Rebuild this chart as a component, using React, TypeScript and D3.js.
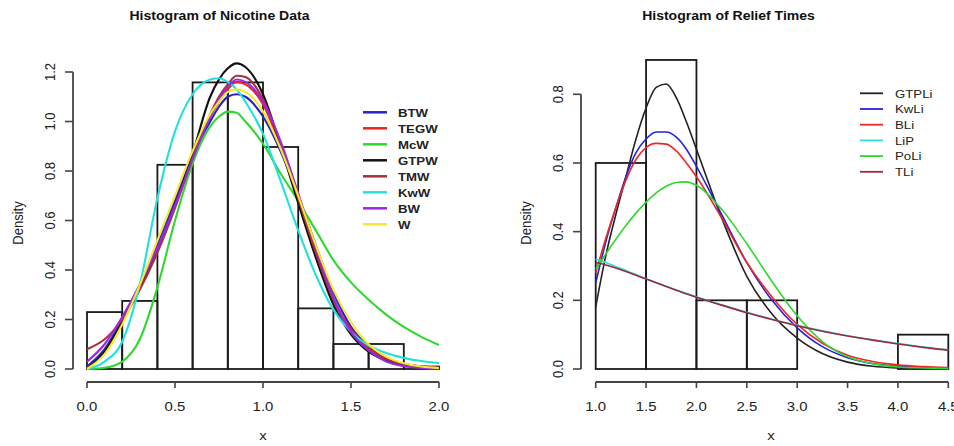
import React from "react";
import * as d3 from "d3";

// ---------- Nicotine data (left panel) ----------
const nicBinEdges = [0, 0.2, 0.4, 0.6, 0.8, 1.0, 1.2, 1.4, 1.6, 1.8, 2.0];
const nicBinDensity = [0.23, 0.275, 0.825, 1.158, 1.158, 0.897, 0.245, 0.101, 0.101, 0.01];
const nicGrid = [0, 0.1, 0.2, 0.3, 0.4, 0.5, 0.6, 0.7, 0.75, 0.8, 0.85, 0.9, 1.0, 1.1, 1.2, 1.3, 1.4, 1.5, 1.6, 1.7, 1.8, 1.9, 2.0];
const nicBTW = [0.01, 0.08, 0.2, 0.34, 0.5, 0.68, 0.86, 1.0, 1.06, 1.1, 1.11, 1.1, 1.02, 0.88, 0.7, 0.5, 0.31, 0.17, 0.09, 0.04, 0.018, 0.007, 0.003];
const nicTEGW = [0, 0.07, 0.19, 0.33, 0.48, 0.66, 0.85, 1.02, 1.08, 1.13, 1.16, 1.15, 1.07, 0.9, 0.69, 0.47, 0.28, 0.16, 0.085, 0.04, 0.02, 0.01, 0.005];
const nicMcW = [0, 0.005, 0.03, 0.12, 0.33, 0.6, 0.83, 0.98, 1.02, 1.04, 1.035, 1.0, 0.91, 0.79, 0.68, 0.56, 0.44, 0.35, 0.28, 0.22, 0.17, 0.13, 0.097];
const nicGTPW = [0, 0.07, 0.19, 0.33, 0.48, 0.66, 0.87, 1.1, 1.17, 1.215, 1.235, 1.22, 1.11, 0.9, 0.67, 0.45, 0.26, 0.14, 0.07, 0.035, 0.015, 0.006, 0.002];
const nicTMW = [0.08, 0.12, 0.2, 0.32, 0.47, 0.65, 0.85, 1.03, 1.1, 1.15, 1.185, 1.18, 1.09, 0.91, 0.69, 0.47, 0.28, 0.15, 0.08, 0.04, 0.02, 0.01, 0.005];
const nicKwW = [0, 0.03, 0.11, 0.34, 0.69, 0.96, 1.11, 1.17, 1.175, 1.16, 1.13, 1.08, 0.95, 0.76, 0.56, 0.38, 0.24, 0.15, 0.095, 0.065, 0.045, 0.032, 0.024];
const nicBW = [0.03, 0.1, 0.21, 0.34, 0.49, 0.66, 0.85, 1.02, 1.09, 1.14, 1.17, 1.16, 1.08, 0.92, 0.71, 0.49, 0.29, 0.15, 0.075, 0.03, 0.012, 0.004, 0.001];
const nicW = [0, 0.06, 0.18, 0.34, 0.52, 0.7, 0.88, 1.03, 1.08, 1.12, 1.13, 1.12, 1.04, 0.89, 0.7, 0.5, 0.32, 0.19, 0.1, 0.05, 0.023, 0.01, 0.004];
const nicNames = ["BTW", "TEGW", "McW", "GTPW", "TMW", "KwW", "BW", "W"];
const nicSeries = [nicBTW, nicTEGW, nicMcW, nicGTPW, nicTMW, nicKwW, nicBW, nicW];
const nicXTicks = [0, 0.5, 1.0, 1.5, 2.0];
const nicYTicks = [0, 0.2, 0.4, 0.6, 0.8, 1.0, 1.2];

// ---------- Relief times data (right panel) ----------
const relBinEdges = [1, 1.5, 2, 2.5, 3, 3.5, 4, 4.5];
const relBinDensity = [0.6, 0.9, 0.2, 0.2, 0, 0, 0.1];
const relGrid = [1.0, 1.1, 1.2, 1.3, 1.4, 1.5, 1.6, 1.7, 1.8, 1.9, 2.0, 2.25, 2.5, 2.75, 3.0, 3.25, 3.5, 3.75, 4.0, 4.25, 4.5];
const relGTPLi = [0.18, 0.33, 0.45, 0.56, 0.67, 0.76, 0.82, 0.83, 0.79, 0.72, 0.64, 0.44, 0.27, 0.16, 0.09, 0.045, 0.02, 0.008, 0.003, 0.001, 0.0];
const relKwLi = [0.25, 0.37, 0.47, 0.56, 0.63, 0.67, 0.69, 0.69, 0.675, 0.64, 0.59, 0.45, 0.31, 0.2, 0.12, 0.065, 0.033, 0.016, 0.008, 0.004, 0.002];
const relBLi = [0.28, 0.38, 0.47, 0.55, 0.61, 0.645, 0.657, 0.655, 0.635, 0.6, 0.56, 0.44, 0.31, 0.21, 0.13, 0.075, 0.04, 0.022, 0.012, 0.007, 0.004];
const relLiP = [0.32, 0.31, 0.298, 0.287, 0.275, 0.263, 0.252, 0.241, 0.23, 0.22, 0.21, 0.187, 0.165, 0.145, 0.127, 0.111, 0.097, 0.085, 0.074, 0.064, 0.056];
const relPoLi = [0.29, 0.335, 0.378, 0.418, 0.454, 0.486, 0.513, 0.532, 0.543, 0.545, 0.535, 0.465, 0.365, 0.255, 0.155, 0.08, 0.036, 0.015, 0.006, 0.003, 0.001];
const relTLi = [0.31, 0.303, 0.294, 0.284, 0.273, 0.262, 0.251, 0.24, 0.229, 0.219, 0.209, 0.186, 0.164, 0.144, 0.126, 0.11, 0.096, 0.084, 0.073, 0.063, 0.055];
const relNames = ["GTPLi", "KwLi", "BLi", "LiP", "PoLi", "TLi"];
const relSeries = [relGTPLi, relKwLi, relBLi, relLiP, relPoLi, relTLi];
const relXTicks = [1.0, 1.5, 2.0, 2.5, 3.0, 3.5, 4.0, 4.5];
const relYTicks = [0, 0.2, 0.4, 0.6, 0.8];

// ---------- styles ----------
const nicColors = ["#2424c8", "#ee2020", "#2fd82f", "#111111", "#a8323c", "#22e0e0", "#9a28e6", "#f2ea2a"];
const relColors = ["#222222", "#2424d8", "#ee2626", "#28e0e0", "#2ed82e", "#a02838"];
const FONT = "'Liberation Sans', Arial, Helvetica, sans-serif";
const SX = 1.15;

function fmt(v: number) {
  return v.toFixed(1);
}

type PanelProps = {
  title: string;
  titleX: number;
  xRange: [number, number];
  yRange: [number, number];
  xDomain: [number, number];
  yDomain: [number, number];
  xAxisY: number;
  yAxisX: number;
  yLabelX: number;
  densityX: number;
  xLabelX: number;
  binEdges: number[];
  binDensity: number[];
  grid: number[];
  series: number[][];
  names: string[];
  colors: string[];
  xTicks: number[];
  yTicks: number[];
  lineWidth: number;
  legend: { x1: number; x2: number; tx: number; y0: number; dy: number; bold: boolean; lw: number; size: number };
};

function Panel(p: PanelProps) {
  const x = d3.scaleLinear().domain(p.xDomain).range(p.xRange);
  const y = d3.scaleLinear().domain(p.yDomain).range(p.yRange);
  const line = d3
    .line<[number, number]>()
    .x((d) => x(d[0]))
    .y((d) => y(d[1]))
    .curve(d3.curveMonotoneX);
  const bars = p.binDensity.map((v, i) => ({ x0: p.binEdges[i], x1: p.binEdges[i + 1], v }));
  const [xa, xb] = [x(p.xTicks[0]), x(p.xTicks[p.xTicks.length - 1])];
  const [ya, yb] = [y(p.yTicks[0]), y(p.yTicks[p.yTicks.length - 1])];
  return (
    <g fontFamily={FONT}>
      <text
        transform={`translate(${p.titleX},20) scale(${1.08},1)`}
        textAnchor="middle"
        fontWeight="bold"
        fontSize={13}
        fill="#111"
      >
        {p.title}
      </text>
      {bars.map((b, i) => (
        <rect
          key={i}
          x={x(b.x0)}
          y={y(b.v)}
          width={x(b.x1) - x(b.x0)}
          height={y(0) - y(b.v)}
          fill="none"
          stroke="#1a1a1a"
          strokeWidth={1.8}
        />
      ))}
      {p.series.map((s, i) => (
        <path
          key={p.names[i]}
          d={line(p.grid.map((g, j) => [g, s[j]] as [number, number])) || ""}
          fill="none"
          stroke={p.colors[i]}
          strokeWidth={p.lineWidth}
          strokeLinejoin="round"
        />
      ))}
      {/* x axis */}
      <line x1={xa} x2={xb} y1={p.xAxisY} y2={p.xAxisY} stroke="#444" strokeWidth={1.8} />
      {p.xTicks.map((t) => (
        <g key={"xt" + t}>
          <line x1={x(t)} x2={x(t)} y1={p.xAxisY} y2={p.xAxisY + 6} stroke="#444" strokeWidth={1.6} />
          <text
            transform={`translate(${x(t)},411) scale(${SX},1)`}
            textAnchor="middle"
            fontSize={13}
            fill="#222"
          >
            {fmt(t)}
          </text>
        </g>
      ))}
      {/* y axis */}
      <line x1={p.yAxisX} x2={p.yAxisX} y1={ya} y2={yb} stroke="#444" strokeWidth={1.8} />
      {p.yTicks.map((t) => (
        <g key={"yt" + t}>
          <line x1={p.yAxisX - 8} x2={p.yAxisX} y1={y(t)} y2={y(t)} stroke="#444" strokeWidth={1.6} />
          <text
            transform={`translate(${p.yLabelX},${y(t)}) scale(${SX},1) rotate(-90)`}
            textAnchor="middle"
            fontSize={13}
            fill="#222"
          >
            {fmt(t)}
          </text>
        </g>
      ))}
      <text transform={`translate(${p.xLabelX},440) scale(${SX},1)`} textAnchor="middle" fontSize={13} fill="#222">
        x
      </text>
      <text
        transform={`translate(${p.densityX},223) scale(${SX},1) rotate(-90)`}
        textAnchor="middle"
        fontSize={13}
        fill="#222"
      >
        Density
      </text>
      {/* legend */}
      {p.names.map((n, i) => {
        const yy = p.legend.y0 + i * p.legend.dy;
        return (
          <g key={"lg" + n}>
            <line x1={p.legend.x1} x2={p.legend.x2} y1={yy} y2={yy} stroke={p.colors[i]} strokeWidth={p.legend.lw} />
            <text
              transform={`translate(${p.legend.tx},${yy + 4.2}) scale(${SX},1)`}
              fontSize={p.legend.size}
              fontWeight={p.legend.bold ? "bold" : "normal"}
              fill="#222"
            >
              {n}
            </text>
          </g>
        );
      })}
    </g>
  );
}

export default function App() {
  return (
    <svg
      width={954}
      height={446}
      viewBox="0 0 954 446"
      style={{ position: "absolute", left: 0, top: 0, background: "#fff" }}
    >
      <rect x={0} y={0} width={954} height={446} fill="#fff" />
      <Panel
        title="Histogram of Nicotine Data"
        titleX={219.5}
        xRange={[87, 439]}
        yRange={[369, 72]}
        xDomain={[0, 2]}
        yDomain={[0, 1.2]}
        xAxisY={382}
        yAxisX={73}
        yLabelX={55}
        densityX={23}
        xLabelX={263}
        binEdges={nicBinEdges}
        binDensity={nicBinDensity}
        grid={nicGrid}
        series={nicSeries}
        names={nicNames}
        colors={nicColors}
        xTicks={nicXTicks}
        yTicks={nicYTicks}
        lineWidth={2.1}
        legend={{ x1: 363, x2: 387, tx: 398, y0: 112.3, dy: 16, bold: true, lw: 2.5, size: 11.5 }}
      />
      <Panel
        title="Histogram of Relief Times"
        titleX={728.5}
        xRange={[595.7, 948.3]}
        yRange={[369, 94.3]}
        xDomain={[1, 4.5]}
        yDomain={[0, 0.8]}
        xAxisY={382}
        yAxisX={581}
        yLabelX={563}
        densityX={531}
        xLabelX={771}
        binEdges={relBinEdges}
        binDensity={relBinDensity}
        grid={relGrid}
        series={relSeries}
        names={relNames}
        colors={relColors}
        xTicks={relXTicks}
        yTicks={relYTicks}
        lineWidth={1.6}
        legend={{ x1: 860, x2: 883, tx: 895, y0: 93.3, dy: 15.7, bold: false, lw: 1.8, size: 11.5 }}
      />
    </svg>
  );
}
